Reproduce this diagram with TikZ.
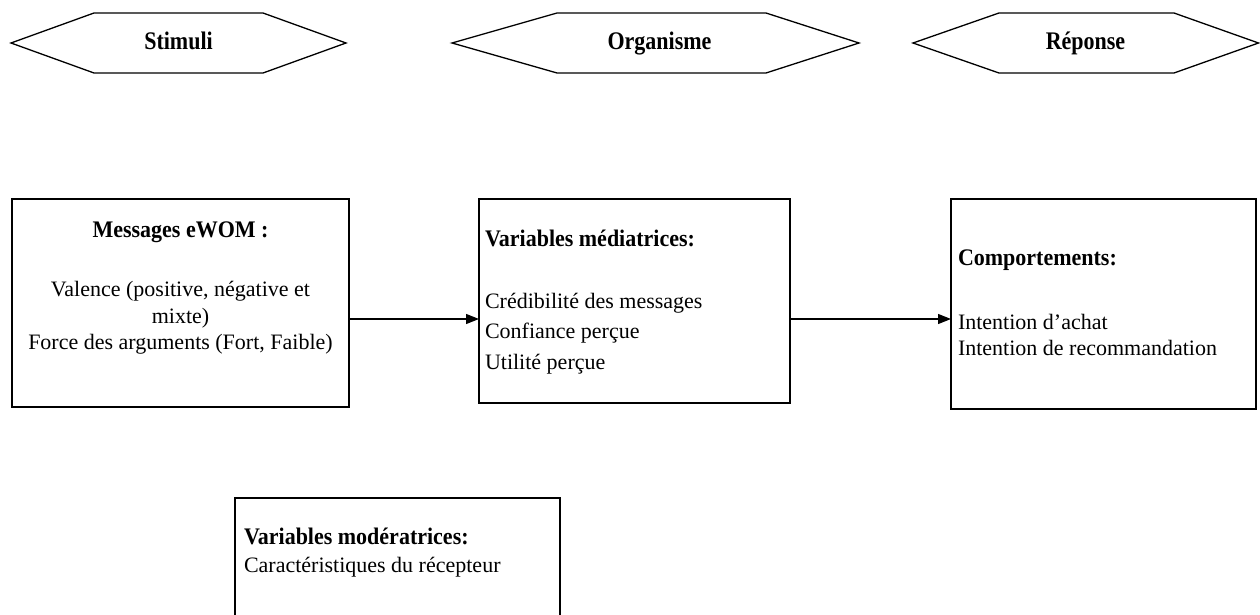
\documentclass[tikz,border=0pt]{standalone}
\usepackage{fontspec}
\setmainfont{Liberation Serif}
\usepackage{graphicx}
\usetikzlibrary{arrows.meta}
\begin{document}
\begin{tikzpicture}[x=0.5pt,y=-0.5pt,
  line/.style={draw=black, line width=0.65pt},
  box/.style={line, rectangle, outer sep=0pt, inner sep=0pt},
  txt/.style={inner sep=0pt, outer sep=0pt, font=\fontsize{11}{13}\selectfont},
  ttl/.style={inner sep=0pt, outer sep=0pt, font=\fontsize{11}{13}\selectfont\bfseries},
  arr/.style={line, -{Triangle[length=6.5pt,width=5pt]}},
  hexa/.style={line, line join=miter}]
\clip (0,0) rectangle (1260,615);
\fill[white] (0,0) rectangle (1260,615);

% header hexagons
\draw[hexa] (11,43) -- (94,13) -- (263,13) -- (346,43) -- (263,73) -- (94,73) -- cycle;
\node[ttl, anchor=base] (stim) at (178.5,50) {\scalebox{1}[1.15]{Stimuli}};
\draw[hexa] (452,43) -- (557,13) -- (766,13) -- (859,43) -- (766,73) -- (557,73) -- cycle;
\node[ttl, anchor=base] (org) at (659.5,50) {\scalebox{1}[1.15]{Organisme}};
\draw[hexa] (913,43) -- (999,13) -- (1174,13) -- (1258.5,43) -- (1174,73) -- (999,73) -- cycle;
\node[ttl, anchor=base] (rep) at (1085.5,50) {\scalebox{1}[1.15]{Réponse}};

% boxes
\node[box, minimum width=168.5pt, minimum height=104pt] (b1) at (180.5,303) {};
\node[box, minimum width=155.5pt, minimum height=102pt] (b2) at (634.5,301) {};
\node[box, minimum width=152.5pt, minimum height=105pt] (b3) at (1103.5,304) {};
\node[box, minimum width=162.5pt, minimum height=71pt] (b4) at (397.5,569) {};

% box 1 text
\node[ttl, anchor=base] (t1a) at (180.5,237) {\scalebox{1}[1.08]{Messages eWOM :}};
\node[txt, anchor=base] (t1b) at (180.5,296) {Valence (positive, négative et};
\node[txt, anchor=base] (t1c) at (180.5,323) {mixte)};
\node[txt, anchor=base] (t1d) at (180.5,350) {Force des arguments (Fort, Faible)};

% box 2 text
\node[ttl, anchor=base west] (t2a) at (485,247) {\scalebox{1}[1.08]{Variables médiatrices:}};
\node[txt, anchor=base west] (t2b) at (485,308) {Crédibilité des messages};
\node[txt, anchor=base west] (t2c) at (485,338.5) {Confiance perçue};
\node[txt, anchor=base west] (t2d) at (485,369) {Utilité perçue};

% box 3 text
\node[ttl, anchor=base west] (t3a) at (958,265) {\scalebox{1}[1.08]{Comportements:}};
\node[txt, anchor=base west] (t3b) at (958,329) {Intention d’achat};
\node[txt, anchor=base west] (t3c) at (958,356) {Intention de recommandation};

% box 4 text
\node[ttl, anchor=base west] (t4a) at (244,544) {\scalebox{1}[1.08]{Variables modératrices:}};
\node[txt, anchor=base west] (t4b) at (244,572) {Caractéristiques du récepteur};

% connectors
\coordinate (ay) at (0,319);
\draw[arr] (b1.east |- ay) -- (b2.west |- ay);
\draw[arr] (b2.east |- ay) -- (b3.west |- ay);
\end{tikzpicture}
\end{document}
